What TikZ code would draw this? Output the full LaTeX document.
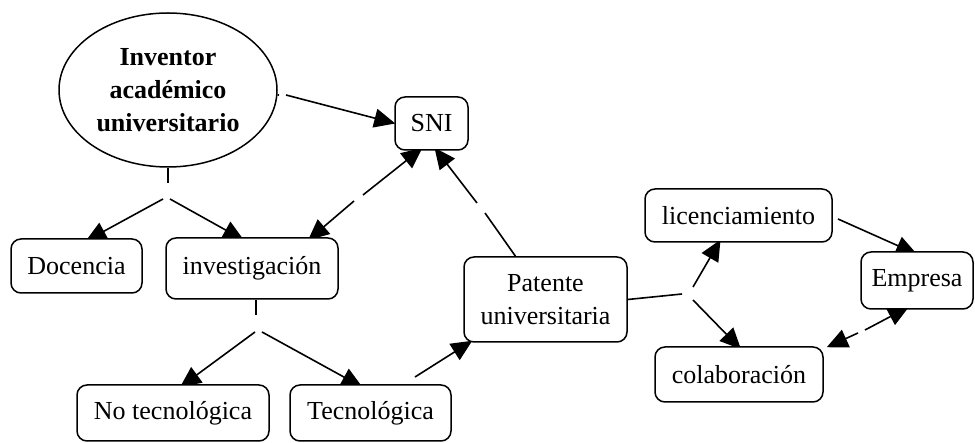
\documentclass[tikz,border=0pt]{standalone}
\usepackage{fontspec}
\setmainfont{Liberation Serif}
\usetikzlibrary{arrows.meta,shapes.geometric}
\pgfdeclarelayer{bg}
\pgfsetlayers{bg,main}
\begin{document}
\begin{tikzpicture}[x=1pt,y=-1pt,
  concept/.style={draw,fill=white,line width=1.5pt,rounded corners=10pt,inner sep=0pt,align=center,font=\fontsize{26}{33}\selectfont},
  link/.style={line width=1.6pt},
  arr/.style={link,-{Triangle[length=21pt,width=19pt]}},
]
\useasboundingbox (0,0) rectangle (975,443);
\node[draw,fill=white,ellipse,line width=1.5pt,minimum width=218pt,minimum height=154pt,inner sep=0pt,align=center,font=\fontsize{26}{33}\selectfont\bfseries] (inv) at (168,90) {Inventor\\académico\\universitario};
\node[concept,minimum width=73pt,minimum height=53pt] (sni) at (431.5,123.5) {SNI};
\node[concept,minimum width=131pt,minimum height=54pt] (doc) at (76.5,266) {Docencia};
\node[concept,minimum width=172pt,minimum height=61pt] (invg) at (252,268.5) {investigación};
\node[concept,minimum width=192pt,minimum height=56pt] (notec) at (173,413) {No tecnológica};
\node[concept,minimum width=161pt,minimum height=56pt] (tec) at (370.5,413) {Tecnológica};
\node[concept,minimum width=163pt,minimum height=85pt] (pat) at (545.5,299.5) {Patente\\universitaria};
\node[concept,minimum width=187pt,minimum height=53pt] (lic) at (738.5,215.5) {licenciamiento};
\node[concept,minimum width=112pt,minimum height=57pt] (emp) at (917,280.5) {Empresa};
\node[concept,minimum width=168pt,minimum height=55pt] (col) at (739,374.5) {colaboración};

\begin{pgfonlayer}{bg}
% inventor -> SNI
\coordinate (g1a) at (279,95); \coordinate (g1b) at (286,95);
\draw[link] (inv) -- (g1a);
\draw[arr] (g1b) -- ([xshift=1pt]sni.west);
% inventor -> docencia / investigacion
\coordinate (g2a) at (168,183); \coordinate (g2l) at (163,199); \coordinate (g2r) at (170,199);
\draw[link] (inv.south) -- (g2a);
\draw[arr] (g2l) -- ([xshift=9pt,yshift=-3pt]doc.north);
\draw[arr] (g2r) -- ([xshift=-8pt,yshift=-3pt]invg.north);
% SNI <-> investigacion
\coordinate (g3a) at (363,195); \coordinate (g3b) at (354,201);
\draw[arr] (g3a) -- ([xshift=-9pt,yshift=3pt]sni.south);
\draw[arr] (g3b) -- ([xshift=56pt,yshift=-3pt]invg.north);
% patente -> SNI
\coordinate (g4a) at (485,213); \coordinate (g4b) at (477,203);
\draw[link] ([xshift=-30pt]pat.north) -- (g4a);
\draw[arr] (g4b) -- ([xshift=3pt,yshift=3pt]sni.south);
% investigacion -> no tecnologica / tecnologica
\coordinate (g5a) at (256,315); \coordinate (g5l) at (255,332); \coordinate (g5r) at (262,332);
\draw[link] ([xshift=4pt]invg.south) -- (g5a);
\draw[arr] (g5l) -- ([xshift=7pt,yshift=-3pt]notec.north);
\draw[arr] (g5r) -- ([xshift=-8pt,yshift=-3pt]tec.north);
% tecnologica -> patente
\coordinate (g6) at (415,377);
\draw[arr] (g6) -- ([xshift=9pt,yshift=2pt]pat.south west);
% patente -> licenciamiento / colaboracion
\coordinate (g7a) at (682,294); \coordinate (g7u) at (693,287); \coordinate (g7d) at (693,300);
\draw[link] (pat.east) -- (g7a);
\draw[arr] (g7u) -- ([xshift=-18pt,yshift=3pt]lic.south);
\draw[arr] (g7d) -- ([xshift=2pt,yshift=-3pt]col.north);
% licenciamiento -> empresa
\coordinate (g8) at (838,219);
\draw[arr] (g8) -- ([xshift=0pt,yshift=-3pt]emp.north);
% empresa <-> colaboracion
\coordinate (g9a) at (858,333); \coordinate (g9b) at (865,330);
\draw[arr] (g9a) -- ([xshift=3pt,yshift=-1pt]col.north east);
\draw[arr] (g9b) -- ([xshift=-8pt,yshift=3pt]emp.south);
\end{pgfonlayer}
\end{tikzpicture}
\end{document}
